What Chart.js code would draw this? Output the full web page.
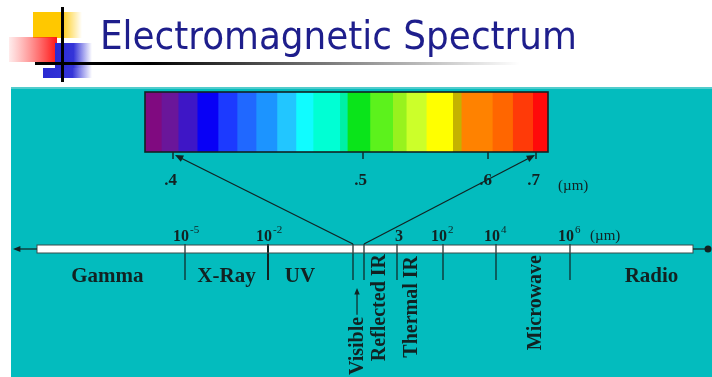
<!DOCTYPE html>
<html>
<head>
<meta charset="utf-8">
<script src="https://cdn.jsdelivr.net/npm/chart.js@4.4.1/dist/chart.umd.min.js"></script>
<style>
  html, body { margin: 0; padding: 0; background: #fff; }
  #wrap { width: 712px; height: 377px; }
</style>
</head>
<body>
<div id="wrap"><canvas id="spectrum" width="712" height="377"></canvas></div>
<script>
const title = 'Electromagnetic Spectrum';

// visible colour bar, violet -> red
const bandColors = ['#800a80', '#6a169a', '#3e16c6', '#0800f6', '#1c3aff', '#2068ff', '#1c94ff',
  '#22c6ff', '#10fcff', '#00ffd4', '#00f0a6', '#0ae41a', '#5cf21c', '#98f21e', '#ccff2a',
  '#ffff00', '#c4b200', '#ff8200', '#ff6600', '#ff3a08', '#ff0a0a'];
// band edges in micrometres
const bandEdges = [0.385, 0.394, 0.403, 0.413, 0.424, 0.434, 0.444, 0.455, 0.465, 0.474, 0.488,
  0.492, 0.506, 0.524, 0.535, 0.551, 0.572, 0.579, 0.610, 0.652, 0.694, 0.725];
const visTicks = [0.4, 0.5, 0.6, 0.7];
const visTickLabels = ['.4', '.5', '.6', '.7'];

// main axis, log10 of wavelength in micrometres
const axisEnds = [-10.34, 9.32];
const boundaries = [-5, -2, -0.4, -0.15, 0.48, 2, 4, 6];
const boundaryWidth = [1.2, 2, 1.2, 1.2, 1.2, 1.2, 1.2, 1.2];
const tickValues = [-5, -2, 0.48, 2, 4, 6];
const tickBase = ['10', '10', '3', '10', '10', '10'];
const tickExp = ['-5', '-2', '', '2', '4', '6'];

const flatNames = ['Gamma', 'X-Ray', 'UV', 'Radio'];
const flatAt = [-7.8, -3.5, -1.4, 8.2];
const uprightNames = ['Reflected IR', 'Thermal IR', 'Microwave'];
const uprightAt = [0.155, 0.976, 5.08];
const visibleAt = -0.286;

// schematic scales: value -> x position on the 712px slide
const scaleAnchors = {
  xw: [[-11.2, 13], [-10.34, 37], [-5, 185], [-2, 268], [-0.4, 353], [-0.15, 364], [0.48, 397],
       [2, 443], [4, 496], [6, 570], [9.32, 693], [9.73, 708]],
  xv: [[0.385, 145], [0.4, 173], [0.5, 363], [0.6, 488], [0.7, 536], [0.725, 548]]
};

const rows = {
  barTop: 92, barBottom: 152, visTickEnd: 159, visLabel: 181,
  axisTop: 245, axisBottom: 253, axisMid: 249, tickTop: 244, tickBottom: 280,
  tickLabel: 237, flatLabel: 277
};

const teal = '#03bcbe';
const ink = '#122222';
const serif = '"Liberation Serif", "Times New Roman", serif';

class PiecewiseScale extends Chart.LinearScale {
  static id = 'piecewise';
  static defaults = Chart.LinearScale.defaults;
  getPixelForValue(v) {
    const a = scaleAnchors[this.id];
    let i = 1;
    while (i < a.length - 1 && v > a[i][0]) i++;
    const [v0, p0] = a[i - 1], [v1, p1] = a[i];
    const p = p0 + (v - v0) / (v1 - v0) * (p1 - p0);
    return this.left + p / 712 * this.width;
  }
  getValueForPixel(px) {
    const a = scaleAnchors[this.id];
    const p = (px - this.left) / this.width * 712;
    let i = 1;
    while (i < a.length - 1 && p > a[i][1]) i++;
    const [v0, p0] = a[i - 1], [v1, p1] = a[i];
    return v0 + (p - p0) / (p1 - p0) * (v1 - v0);
  }
}
Chart.register(PiecewiseScale);

const datasets = [];
// each band starts under its left neighbour so no seams show through
bandColors.forEach((c, i) => datasets.push({
  xAxisID: 'xv', yAxisID: 'y', order: 5,
  data: [{x: bandEdges[Math.max(i - 1, 0)], y: rows.barTop}, {x: bandEdges[i + 1], y: rows.barTop}],
  borderWidth: 0, pointRadius: 0, backgroundColor: c, fill: {value: rows.barBottom}
}));
datasets.push({
  xAxisID: 'xw', yAxisID: 'y', order: 6,
  data: [{x: axisEnds[0], y: rows.axisTop}, {x: axisEnds[1], y: rows.axisTop}],
  borderWidth: 0, pointRadius: 0, backgroundColor: '#ffffff', fill: {value: rows.axisBottom}
});
boundaries.forEach((b, i) => datasets.push({
  xAxisID: 'xw', yAxisID: 'y', order: 1,
  data: [{x: b, y: rows.tickTop}, {x: b, y: rows.tickBottom}],
  borderColor: ink, borderWidth: boundaryWidth[i], pointRadius: 0, fill: false
}));
visTicks.forEach(t => datasets.push({
  xAxisID: 'xv', yAxisID: 'y', order: 1,
  data: [{x: t, y: rows.barBottom}, {x: t, y: rows.visTickEnd}],
  borderColor: ink, borderWidth: 1.4, pointRadius: 0, fill: false
}));

function arrow(ctx, x1, y1, x2, y2, size) {
  const ang = Math.atan2(y2 - y1, x2 - x1);
  ctx.beginPath();
  ctx.moveTo(x1, y1);
  ctx.lineTo(x2 - Math.cos(ang) * size * 0.6, y2 - Math.sin(ang) * size * 0.6);
  ctx.stroke();
  ctx.beginPath();
  ctx.moveTo(x2, y2);
  ctx.lineTo(x2 - size * Math.cos(ang - 0.4), y2 - size * Math.sin(ang - 0.4));
  ctx.lineTo(x2 - size * Math.cos(ang + 0.4), y2 - size * Math.sin(ang + 0.4));
  ctx.closePath();
  ctx.fill();
}

const slidePlugin = {
  id: 'slide',
  beforeDraw(chart) {
    const ctx = chart.ctx;
    ctx.save();
    ctx.fillStyle = '#ffffff';
    ctx.fillRect(0, 0, 712, 377);
    ctx.fillStyle = teal;
    ctx.fillRect(11, 89, 701, 288);
    ctx.fillStyle = '#52cccc';
    ctx.fillRect(11, 87, 701, 2);

    // slide logo
    let g = ctx.createLinearGradient(33, 0, 82, 0);
    g.addColorStop(0, '#ffc800'); g.addColorStop(0.55, '#ffc800'); g.addColorStop(1, 'rgba(255,200,0,0)');
    ctx.fillStyle = g; ctx.fillRect(33, 12, 49, 26);
    g = ctx.createLinearGradient(9, 0, 57, 0);
    g.addColorStop(0, 'rgba(255,70,70,0.1)'); g.addColorStop(1, '#ff1414');
    ctx.fillStyle = g; ctx.fillRect(9, 37, 48, 25);
    g = ctx.createLinearGradient(55, 0, 92, 0);
    g.addColorStop(0, '#2a2ad2'); g.addColorStop(0.5, '#3434d8'); g.addColorStop(1, 'rgba(60,60,220,0)');
    ctx.fillStyle = g; ctx.fillRect(55, 43, 37, 25);
    g = ctx.createLinearGradient(43, 0, 92, 0);
    g.addColorStop(0, '#2a2ad2'); g.addColorStop(0.6, '#3434d8'); g.addColorStop(1, 'rgba(60,60,220,0)');
    ctx.fillStyle = g; ctx.fillRect(43, 68, 49, 10);
    g = ctx.createLinearGradient(150, 0, 520, 0);
    g.addColorStop(0, '#000000'); g.addColorStop(1, 'rgba(0,0,0,0)');
    ctx.fillStyle = '#000'; ctx.fillRect(35, 62, 115, 3);
    ctx.fillStyle = g; ctx.fillRect(150, 62, 370, 3);
    ctx.fillStyle = '#000'; ctx.fillRect(61, 7, 3, 75);

    // title
    const sans = '"DejaVu Sans Condensed", Tahoma, "Noto Sans", sans-serif';
    ctx.font = '100px ' + sans;
    const size = 100 * 477 / ctx.measureText(title).width;
    ctx.font = size.toFixed(1) + 'px ' + sans;
    ctx.fillStyle = '#1e1e8c';
    ctx.textBaseline = 'alphabetic';
    ctx.textAlign = 'left';
    ctx.fillText(title, 100, 49);
    ctx.restore();
  },
  afterDatasetsDraw(chart) {
    const ctx = chart.ctx;
    const X = chart.scales.xw, V = chart.scales.xv, Y = chart.scales.y;
    const y = v => Y.getPixelForValue(v);
    ctx.save();
    ctx.strokeStyle = ink; ctx.fillStyle = ink;

    // colour bar frame
    ctx.lineWidth = 1.6;
    ctx.strokeRect(V.getPixelForValue(bandEdges[0]), y(rows.barTop),
      V.getPixelForValue(bandEdges[bandEdges.length - 1]) - V.getPixelForValue(bandEdges[0]),
      y(rows.barBottom) - y(rows.barTop));

    // main axis outline and end arrows
    const xl = X.getPixelForValue(axisEnds[0]), xr = X.getPixelForValue(axisEnds[1]);
    ctx.lineWidth = 1;
    ctx.strokeStyle = '#3a4a4a';
    ctx.strokeRect(xl, y(rows.axisTop), xr - xl, y(rows.axisBottom) - y(rows.axisTop));
    ctx.strokeStyle = ink;
    ctx.lineWidth = 1.2;
    arrow(ctx, xl, y(rows.axisMid), X.getPixelForValue(-11.2), y(rows.axisMid), 8);
    ctx.beginPath();
    ctx.moveTo(xr, y(rows.axisMid)); ctx.lineTo(X.getPixelForValue(9.73), y(rows.axisMid)); ctx.stroke();
    ctx.beginPath(); ctx.arc(X.getPixelForValue(9.73), y(rows.axisMid), 3.5, 0, Math.PI * 2); ctx.fill();

    // zoom lines from the axis up to the colour bar
    ctx.lineWidth = 1.2;
    arrow(ctx, X.getPixelForValue(boundaries[2]), y(rows.tickTop), V.getPixelForValue(0.4) + 2, y(155), 9);
    arrow(ctx, X.getPixelForValue(boundaries[3]), y(rows.tickTop), V.getPixelForValue(0.7) - 1, y(155), 9);

    // colour bar labels
    ctx.font = 'bold 17px ' + serif;
    ctx.textBaseline = 'middle';
    ctx.textAlign = 'right';
    visTicks.forEach((t, i) => ctx.fillText(visTickLabels[i], V.getPixelForValue(t) + 4, y(rows.visLabel)));
    ctx.textAlign = 'left';
    ctx.font = '15px ' + serif;
    ctx.fillText('(\u00b5m)', V.getPixelForValue(0.7) + 22, y(rows.visLabel + 5));

    // wavelength tick labels
    tickValues.forEach((t, i) => {
      const px = X.getPixelForValue(t);
      ctx.font = 'bold 16px ' + serif;
      if (tickExp[i]) {
        ctx.textAlign = 'right';
        ctx.fillText(tickBase[i], px + 4, y(rows.tickLabel));
        ctx.textAlign = 'left';
        ctx.font = '11px ' + serif;
        ctx.fillText(tickExp[i], px + 5, y(rows.tickLabel - 7));
      } else {
        ctx.textAlign = 'center';
        ctx.fillText(tickBase[i], px + 2, y(rows.tickLabel));
      }
    });
    ctx.textAlign = 'left';
    ctx.font = '15px ' + serif;
    ctx.fillText('(\u00b5m)', X.getPixelForValue(6) + 20, y(rows.tickLabel - 1));

    // region names
    ctx.font = 'bold 21px ' + serif;
    ctx.textAlign = 'center';
    flatNames.forEach((n, i) => ctx.fillText(n, X.getPixelForValue(flatAt[i]), y(rows.flatLabel)));

    ctx.font = 'bold 20px ' + serif;
    const upright = (text, px, py, align) => {
      ctx.save();
      ctx.translate(px, py);
      ctx.rotate(-Math.PI / 2);
      ctx.textAlign = align;
      ctx.fillText(text, 0, 0);
      ctx.restore();
    };
    const tops = [254, 256, 255];
    uprightNames.forEach((n, i) => upright(n, X.getPixelForValue(uprightAt[i]), y(tops[i]), 'right'));
    const vx = X.getPixelForValue(visibleAt);
    upright('Visible', vx, y(375), 'left');
    const vTop = y(375) - ctx.measureText('Visible').width - 2;
    ctx.lineWidth = 1.2;
    arrow(ctx, vx - 1, vTop, vx - 1, y(288), 7);
    ctx.restore();
  }
};

new Chart(document.getElementById('spectrum'), {
  type: 'line',
  data: { datasets },
  options: {
    responsive: false,
    animation: false,
    events: [],
    layout: { padding: 0 },
    elements: { line: { tension: 0 } },
    plugins: { legend: { display: false }, tooltip: { enabled: false }, title: { display: false } },
    scales: {
      xw: { type: 'piecewise', position: 'bottom', min: -11.2, max: 9.73, display: false },
      xv: { type: 'piecewise', position: 'top', min: 0.385, max: 0.725, display: false },
      y: { type: 'linear', min: 0, max: 377, reverse: true, display: false }
    }
  },
  plugins: [slidePlugin]
});
</script>
</body>
</html>
